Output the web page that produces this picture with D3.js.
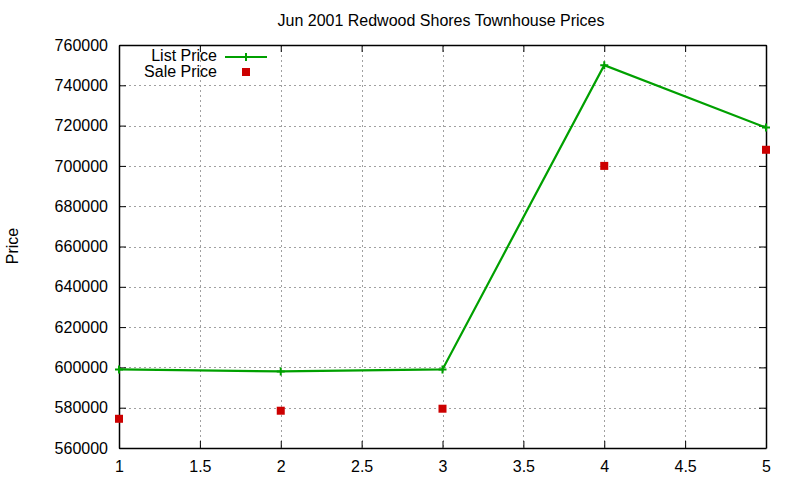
<!DOCTYPE html>
<meta charset="utf-8">
<style type="text/css">
  body { margin: 0; background: #fff; }
  text { font-family: "Liberation Sans", Arial, sans-serif; font-size: 16px; fill: #000; }
  .grid line { stroke: #a0a0a0; stroke-width: 1; stroke-dasharray: 2,3; }
</style>
<body>
<script src="https://d3js.org/d3.v7.min.js"></script>
<script>
  var units = [1, 2, 3, 4, 5];
  var listPrice = [599000, 598000, 599000, 750000, 719000];
  var salePrice = [574500, 578500, 579500, 700000, 708000];
  var xTicks = [1, 1.5, 2, 2.5, 3, 3.5, 4, 4.5, 5];
  var yTicks = [560000, 580000, 600000, 620000, 640000, 660000, 680000, 700000, 720000, 740000, 760000];

  var w = 800, h = 480;
  var plotL = 119, plotR = 766, plotT = 45, plotB = 448;

  var svg = d3.select('body').append('svg')
    .attr('width', w)
    .attr('height', h);

  var x = d3.scaleLinear().domain([1, 5]).range([plotL, plotR]);
  var y = d3.scaleLinear().domain([560000, 760000]).range([plotB, plotT]);

  // grid
  var grid = svg.append('g').attr('class', 'grid');
  grid.selectAll('.gx').data(xTicks.slice(1, -1)).enter().append('line')
    .attr('x1', function(d) { return Math.round(x(d)) + 0.5; })
    .attr('x2', function(d) { return Math.round(x(d)) + 0.5; })
    .attr('y1', plotT).attr('y2', plotB);
  grid.selectAll('.gy').data(yTicks.slice(1, -1)).enter().append('line')
    .attr('x1', plotL).attr('x2', plotR)
    .attr('y1', function(d) { return Math.round(y(d)) + 0.5; })
    .attr('y2', function(d) { return Math.round(y(d)) + 0.5; });

  // axes with inward ticks on all four sides
  var fmt = function(d) { return d3.format('d')(d); };
  svg.append('g').attr('transform', 'translate(' + plotL + ',0)')
    .call(d3.axisLeft(y).tickValues(yTicks).tickFormat(fmt).tickSizeInner(-7).tickSizeOuter(0).tickPadding(11));
  svg.append('g').attr('transform', 'translate(' + plotR + ',0)')
    .call(d3.axisRight(y).tickValues(yTicks).tickFormat('').tickSizeInner(-7).tickSizeOuter(0));
  svg.append('g').attr('transform', 'translate(0,' + plotB + ')')
    .call(d3.axisBottom(x).tickValues(xTicks).tickFormat(function(d) { return d; }).tickSizeInner(-7).tickSizeOuter(0).tickPadding(13));
  svg.append('g').attr('transform', 'translate(0,' + plotT + ')')
    .call(d3.axisTop(x).tickValues(xTicks).tickFormat('').tickSizeInner(-7).tickSizeOuter(0));
  svg.selectAll('.domain').attr('stroke', '#000').attr('stroke-width', 1.5);
  svg.selectAll('.tick line').attr('stroke', '#000');
  svg.selectAll('.tick text').style('font-size', '16px').attr('font-family', null);

  // titles
  svg.append('text').attr('x', 441).attr('y', 26).attr('text-anchor', 'middle')
    .text('Jun 2001 Redwood Shores Townhouse Prices');
  svg.append('text').attr('transform', 'translate(18,246) rotate(-90)').attr('text-anchor', 'middle')
    .text('Price');

  // list price line
  var listData = units.map(function(u, i) { return [u, listPrice[i]]; });
  svg.append('path').datum(listData)
    .attr('d', d3.line().x(function(d) { return x(d[0]); }).y(function(d) { return y(d[1]); }))
    .attr('fill', 'none').attr('stroke', '#00a000').attr('stroke-width', 2.2);
  svg.selectAll('.plus').data(listData).enter().append('path')
    .attr('d', function(d) { var cx = x(d[0]), cy = y(d[1]);
      return 'M' + (cx - 4) + ',' + cy + 'H' + (cx + 4) + 'M' + cx + ',' + (cy - 4) + 'V' + (cy + 4); })
    .attr('stroke', '#00a000').attr('stroke-width', 2);

  // sale price points
  var saleData = units.map(function(u, i) { return [u, salePrice[i]]; });
  svg.selectAll('.sq').data(saleData).enter().append('rect')
    .attr('x', function(d) { return x(d[0]) - 4; })
    .attr('y', function(d) { return y(d[1]) - 4; })
    .attr('width', 8).attr('height', 8)
    .attr('fill', '#cc0000');

  // legend
  svg.append('text').attr('x', 217).attr('y', 61).attr('text-anchor', 'end').text('List Price');
  svg.append('line').attr('x1', 225).attr('x2', 267).attr('y1', 57).attr('y2', 57)
    .attr('stroke', '#00a000').attr('stroke-width', 2.2);
  svg.append('path').attr('d', 'M242,57H250M246,53V61').attr('stroke', '#00a000').attr('stroke-width', 2);
  svg.append('text').attr('x', 217).attr('y', 77).attr('text-anchor', 'end').text('Sale Price');
  svg.append('rect').attr('x', 242).attr('y', 68).attr('width', 8).attr('height', 8).attr('fill', '#cc0000');
</script>
</body>
